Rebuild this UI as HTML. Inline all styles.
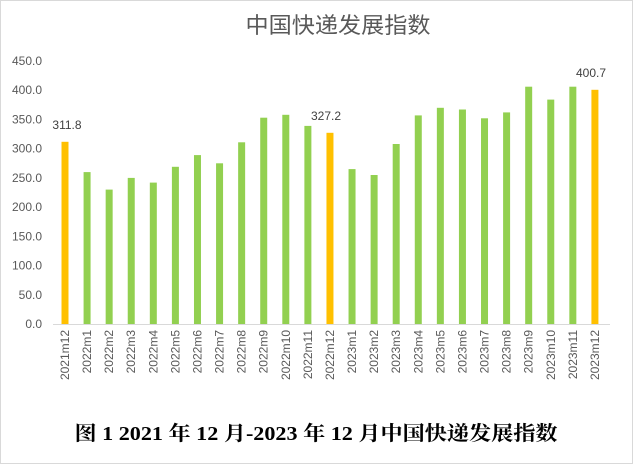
<!DOCTYPE html><html><head><meta charset="utf-8"><style>body{margin:0;background:#fff}</style></head><body>
<svg width="633" height="464" xmlns="http://www.w3.org/2000/svg" font-family="Liberation Sans, Noto Sans CJK SC, sans-serif">
<rect x="0.5" y="0.5" width="632" height="463" fill="#fff" stroke="#d9d9d9"/>
<text x="338" y="33" font-size="22" fill="#595959" text-anchor="middle" textLength="185" lengthAdjust="spacingAndGlyphs">中国快递发展指数</text>
<g font-size="12" fill="#595959" text-anchor="end">
<text x="42" y="328">0.0</text><text x="42" y="298.8">50.0</text><text x="42" y="269.6">100.0</text><text x="42" y="240.3">150.0</text><text x="42" y="211.1">200.0</text><text x="42" y="181.9">250.0</text><text x="42" y="152.6">300.0</text><text x="42" y="123.4">350.0</text><text x="42" y="94.2">400.0</text><text x="42" y="65">450.0</text>
</g>
<line x1="53" y1="324.5" x2="610" y2="324.5" stroke="#d9d9d9"/>
<g fill="#92d050">
<rect x="61.5" y="141.8" width="7" height="182.2" fill="#ffc000"/>
<rect x="83.58" y="172.1" width="7" height="151.9"/>
<rect x="105.66" y="189.6" width="7" height="134.4"/>
<rect x="127.74" y="177.9" width="7" height="146.1"/>
<rect x="149.82" y="182.6" width="7" height="141.4"/>
<rect x="171.9" y="166.8" width="7" height="157.2"/>
<rect x="193.98" y="155.1" width="7" height="168.9"/>
<rect x="216.06" y="163.3" width="7" height="160.7"/>
<rect x="238.14" y="142.3" width="7" height="181.7"/>
<rect x="260.22" y="117.7" width="7" height="206.3"/>
<rect x="282.3" y="114.8" width="7" height="209.2"/>
<rect x="304.38" y="125.9" width="7" height="198.1"/>
<rect x="326.46" y="132.8" width="7" height="191.2" fill="#ffc000"/>
<rect x="348.54" y="169.1" width="7" height="154.9"/>
<rect x="370.62" y="175" width="7" height="149"/>
<rect x="392.7" y="144" width="7" height="180"/>
<rect x="414.78" y="115.4" width="7" height="208.6"/>
<rect x="436.86" y="107.8" width="7" height="216.2"/>
<rect x="458.94" y="109.5" width="7" height="214.5"/>
<rect x="481.02" y="118.3" width="7" height="205.7"/>
<rect x="503.1" y="112.4" width="7" height="211.6"/>
<rect x="525.18" y="86.7" width="7" height="237.3"/>
<rect x="547.26" y="99.6" width="7" height="224.4"/>
<rect x="569.34" y="86.7" width="7" height="237.3"/>
<rect x="591.42" y="89.8" width="7" height="234.2" fill="#ffc000"/>
</g>
<g font-size="12" fill="#404040" text-anchor="middle">
<text x="67" y="128.8">311.8</text><text x="326" y="119.8">327.2</text><text x="591" y="76.8">400.7</text>
</g>
<g font-size="12" fill="#595959" text-anchor="end">
<text transform="translate(69,330) rotate(-90)">2021m12</text>
<text transform="translate(91.08,330) rotate(-90)">2022m1</text>
<text transform="translate(113.16,330) rotate(-90)">2022m2</text>
<text transform="translate(135.24,330) rotate(-90)">2022m3</text>
<text transform="translate(157.32,330) rotate(-90)">2022m4</text>
<text transform="translate(179.4,330) rotate(-90)">2022m5</text>
<text transform="translate(201.48,330) rotate(-90)">2022m6</text>
<text transform="translate(223.56,330) rotate(-90)">2022m7</text>
<text transform="translate(245.64,330) rotate(-90)">2022m8</text>
<text transform="translate(267.72,330) rotate(-90)">2022m9</text>
<text transform="translate(289.8,330) rotate(-90)">2022m10</text>
<text transform="translate(311.88,330) rotate(-90)">2022m11</text>
<text transform="translate(333.96,330) rotate(-90)">2022m12</text>
<text transform="translate(356.04,330) rotate(-90)">2023m1</text>
<text transform="translate(378.12,330) rotate(-90)">2023m2</text>
<text transform="translate(400.2,330) rotate(-90)">2023m3</text>
<text transform="translate(422.28,330) rotate(-90)">2023m4</text>
<text transform="translate(444.36,330) rotate(-90)">2023m5</text>
<text transform="translate(466.44,330) rotate(-90)">2023m6</text>
<text transform="translate(488.52,330) rotate(-90)">2023m7</text>
<text transform="translate(510.6,330) rotate(-90)">2023m8</text>
<text transform="translate(532.68,330) rotate(-90)">2023m9</text>
<text transform="translate(554.76,330) rotate(-90)">2023m10</text>
<text transform="translate(576.84,330) rotate(-90)">2023m11</text>
<text transform="translate(598.92,330) rotate(-90)">2023m12</text>
</g>
<text x="316" y="440" font-size="20" font-weight="bold" text-anchor="middle" textLength="483" lengthAdjust="spacingAndGlyphs" font-family="Liberation Serif, Noto Serif CJK SC, serif" fill="#000">图 1 2021 年 12 月-2023 年 12 月中国快递发展指数</text>
</svg></body></html>
